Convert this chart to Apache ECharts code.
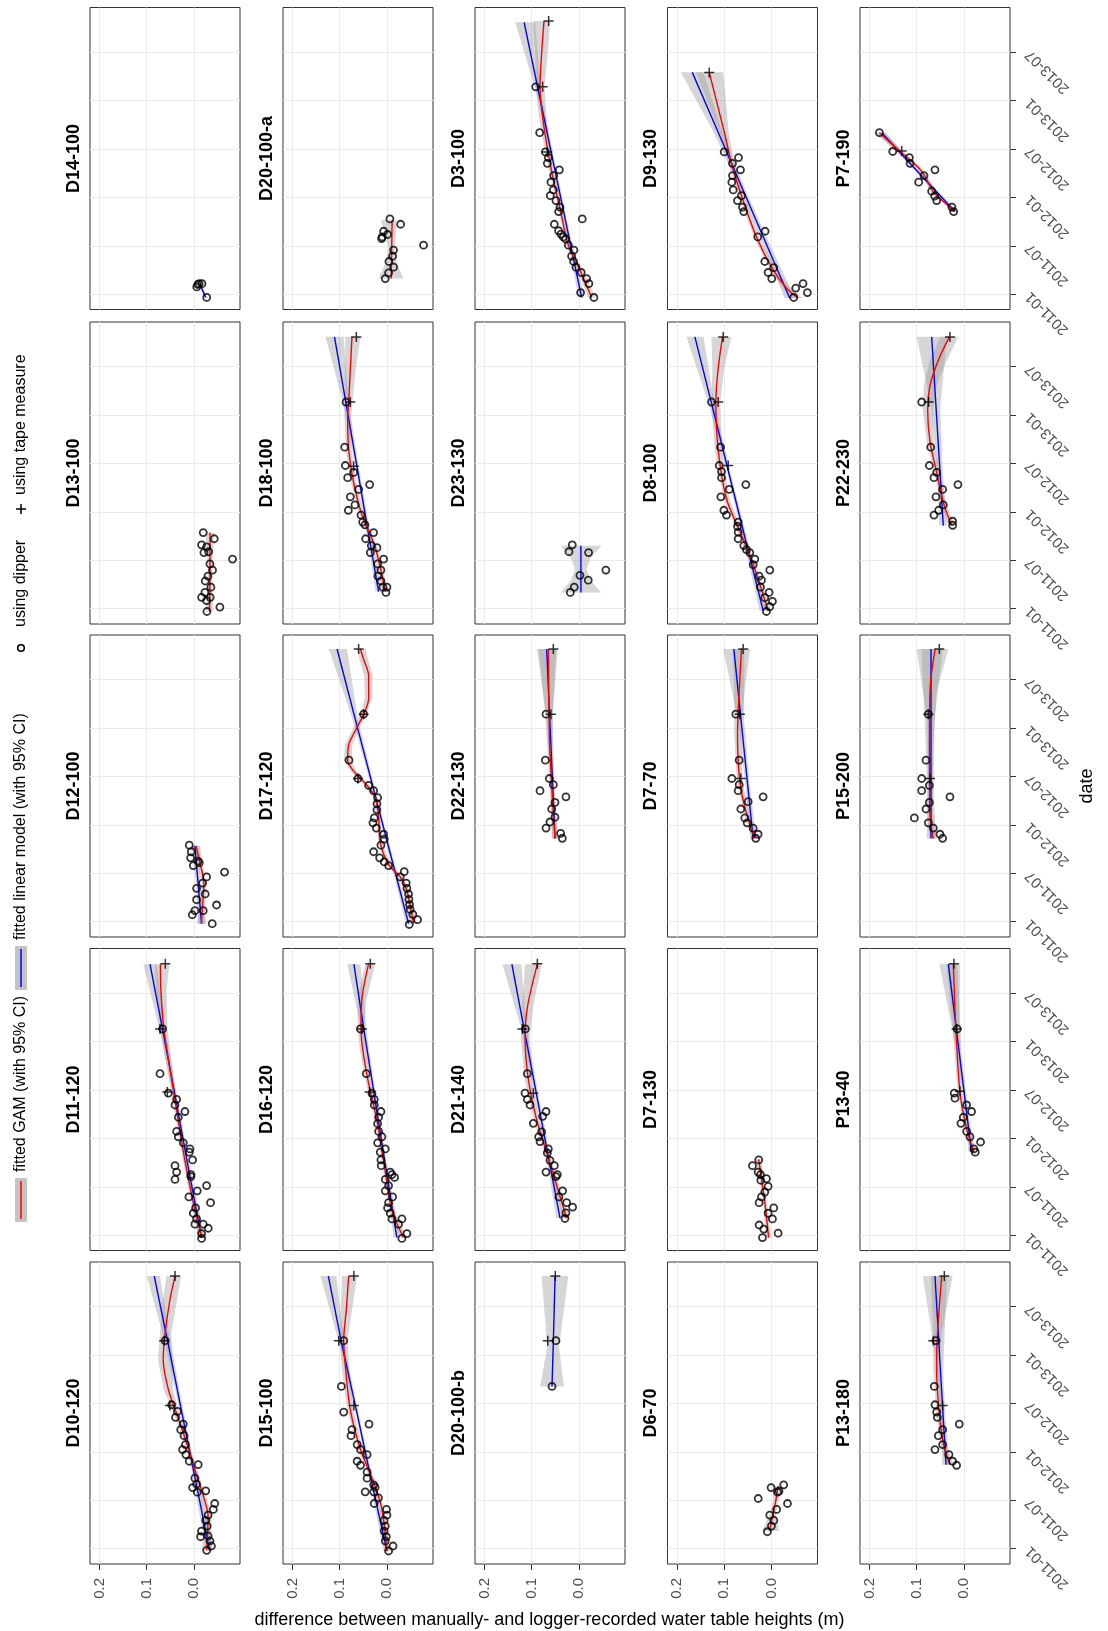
<!DOCTYPE html>
<html><head><meta charset="utf-8">
<script src="https://cdn.jsdelivr.net/npm/echarts@6/dist/echarts.min.js"></script>
<style>html,body{margin:0;padding:0;background:#fff}#chart{width:1108px;height:1631px}</style>
</head><body><div id="chart"></div>
<script>
// Dates are given in months since 2011-01-01; values are differences in metres.
const facetNames = ['D10-120','D11-120','D12-100','D13-100','D14-100',
  'D15-100','D16-120','D17-120','D18-100','D20-100-a',
  'D20-100-b','D21-140','D22-130','D23-130','D3-100',
  'D6-70','D7-130','D7-70','D8-100','D9-130',
  'P13-180','P13-40','P15-200','P22-230','P7-190'];
const valueTicks = [0, 0.1, 0.2];
const dateTicks = [0, 6, 12, 18, 24, 30];
const dateTickLabels = ['2011-01','2011-07','2012-01','2012-07','2013-01','2013-07'];

// ---- point data: [month, value] ; fits: [month, fit, lower, upper]
const dip_D10_120 = [[25.79,0.061],[17.84,0.047],[17.02,0.035],[16.28,0.039],[15.45,0.0225],[14.75,0.028],[14.01,0.021],[12.9,0.018],[12.28,0.024],[11.66,0.017],[10.84,0.010],[10.42,-0.009],[8.74,-0.002],[7.99,-0.0056],[7.58,0.0028],[7.17,-0.025],[7.01,-0.007],[5.6,-0.044],[4.86,-0.041],[4.16,-0.030],[3.5,-0.025],[2.8,-0.028],[2.18,-0.016],[1.48,-0.014],[1.57,-0.030],[0.95,-0.034],[0.33,-0.037],[-0.21,-0.027]];
const tape_D10_120 = [[33.79,0.040],[25.79,0.063],[17.76,0.051]];
const gam_D10_120 = [[-0.2,-0.027,-0.037,-0.017],[4.0,-0.030,-0.037,-0.023],[6.5,-0.020,-0.026,-0.014],[9.0,-0.006,-0.011,-0.001],[13.1,0.0155,0.011,0.020],[16.8,0.037,0.031,0.043],[19.7,0.054,0.044,0.064],[23.4,0.065,0.045,0.076],[26.7,0.061,0.048,0.072],[30.8,0.051,0.036,0.066],[33.8,0.040,0.027,0.058]];
const lm_D10_120 = [[-0.2,-0.033,-0.041,-0.025],[8.3,-0.004,-0.008,0.0],[17,0.026,0.022,0.030],[25.5,0.055,0.049,0.061],[33.8,0.084,0.072,0.100]];

const dip_D11_120 = [[25.57,0.0662],[20.02,0.0718],[17.6,0.0542],[16.84,0.0366],[16.14,0.0401],[15.33,0.019],[14.62,0.0331],[12.86,0.0366],[12.2,0.0331],[11.45,0.0225],[10.69,0.0085],[10.29,0.0099],[9.33,0.0028],[8.62,0.0401],[7.82,0.0366],[6.91,0.0401],[7.51,0.0063],[7.26,0.0063],[6.15,-0.0268],[5.5,-0.007],[4.74,0.0106],[4.03,-0.0352],[3.38,-0.0035],[2.72,0.0014],[2.02,-0.0056],[1.36,-0.0021],[1.36,-0.0197],[0.86,-0.0303],[0.2,-0.0162],[-0.4,-0.0162]];
const tape_D11_120 = [[33.64,0.0606],[25.57,0.0718],[17.75,0.0563]];
const gam_D11_120 = [[-0.3,-0.016,-0.022,-0.010],[4.1,0.0014,-0.003,0.006],[9.2,0.019,0.015,0.023],[16.7,0.040,0.035,0.045],[23.3,0.058,0.051,0.065],[25.6,0.064,0.056,0.071],[30.4,0.070,0.058,0.080],[33.6,0.071,0.052,0.083]];
const lm_D11_120 = [[-0.3,-0.016,-0.023,-0.009],[8,0.0107,0.007,0.015],[16.5,0.0375,0.034,0.041],[25,0.0646,0.059,0.071],[33.6,0.093,0.079,0.107]];

const dip_D12_100 = [[9.48,0.0099],[8.67,0.0056],[7.92,0.007],[7.51,-0.0085],[7.31,-0.0113],[6.96,0.0014],[6.15,-0.0648],[5.55,-0.0268],[4.79,-0.0183],[4.14,-0.0056],[3.43,-0.0239],[2.72,-0.0056],[2.07,-0.0479],[1.36,-0.0021],[0.86,0.0035],[1.36,-0.0197],[-0.25,-0.0387]];
const tape_D12_100 = [];
const gam_D12_100 = [[-0.25,-0.016,-0.025,-0.007],[1.8,-0.018,-0.024,-0.012],[4.8,-0.021,-0.026,-0.016],[7.3,-0.0127,-0.018,-0.007],[9.4,-0.0042,-0.013,0.006]];
const lm_D12_100 = [[-0.25,-0.0162,-0.024,-0.008],[4.6,-0.009,-0.013,-0.005],[9.4,-0.0021,-0.011,0.007]];

const dip_D13_100 = [[9.43,-0.0197],[8.67,-0.043],[7.92,-0.0162],[7.67,-0.0268],[6.96,-0.0211],[7.06,-0.031],[6.15,-0.0817],[5.55,-0.0338],[4.79,-0.0394],[4.03,-0.0296],[3.43,-0.0239],[2.67,-0.0359],[2.02,-0.0232],[1.41,-0.0162],[1.01,-0.0268],[1.41,-0.0345],[0.2,-0.0549],[-0.35,-0.0275]];
const tape_D13_100 = [];
const gam_D13_100 = [[-0.35,-0.033,-0.041,-0.025],[4.5,-0.034,-0.038,-0.030],[9.4,-0.034,-0.043,-0.025]];
const lm_D13_100 = [];

const dip_D14_100 = [[-0.4,-0.027],[0.9,-0.006],[1.3,-0.011],[1.3,-0.017],[1.2,-0.008]];
const tape_D14_100 = [];
const gam_D14_100 = [];
const lm_D14_100 = [[-0.4,-0.025,-0.028,-0.022],[1.3,-0.012,-0.015,-0.009]];

const dip_D15_100 = [[25.79,0.0915],[20.11,0.0965],[16.93,0.0915],[15.45,0.038],[14.75,0.074],[14.01,0.076],[12.9,0.063],[12.28,0.056],[11.66,0.042],[10.84,0.063],[10.34,0.056],[9.48,0.042],[8.74,0.042],[7.91,0.028],[7.62,0.025],[7.05,0.046],[7.05,0.028],[6.3,0.018],[5.6,0.027],[4.86,0.001],[4.16,0.0],[3.5,0.006],[2.8,0.0035],[2.18,0.006],[1.48,0.0014],[0.95,0.0035],[0.33,-0.013],[-0.29,-0.0035]];
const tape_D15_100 = [[33.79,0.070],[25.79,0.102],[17.76,0.070]];
const gam_D15_100 = [[-0.3,0.0,-0.006,0.006],[4.9,0.0106,0.006,0.015],[8.2,0.028,0.024,0.032],[12.3,0.056,0.051,0.061],[17.2,0.0775,0.071,0.084],[22.6,0.088,0.080,0.096],[25.9,0.0915,0.083,0.100],[29.6,0.086,0.074,0.098],[33.8,0.081,0.063,0.095]];
const lm_D15_100 = [[-0.3,0.0,-0.007,0.007],[8.2,0.032,0.028,0.036],[16.7,0.063,0.060,0.066],[25.2,0.095,0.090,0.100],[33.8,0.124,0.107,0.141]];

const dip_D16_120 = [[25.57,0.0563],[20.02,0.0437],[17.6,0.0317],[16.84,0.0268],[16.14,0.0268],[15.33,0.0127],[14.62,0.0176],[13.82,0.0197],[12.86,0.0176],[12.2,0.0106],[11.45,0.0197],[10.69,0.0035],[10.29,0.0141],[9.33,0.0127],[8.62,0.012],[7.82,-0.007],[7.51,-0.0106],[7.16,-0.0162],[6.91,0.0035],[6.15,-0.0035],[5.5,0.0035],[4.74,-0.012],[4.03,-0.0035],[3.38,-0.0014],[2.72,-0.007],[2.02,-0.0106],[2.02,-0.0317],[1.36,-0.0246],[0.2,-0.0423],[-0.4,-0.0317]];
const tape_D16_120 = [[33.64,0.0352],[25.57,0.0528],[17.75,0.0366]];
const gam_D16_120 = [[-0.3,-0.035,-0.042,-0.028],[3.1,-0.0106,-0.015,-0.006],[9.2,0.007,0.003,0.011],[14.2,0.021,0.017,0.025],[18.8,0.0387,0.034,0.044],[22.8,0.0507,0.045,0.057],[25.6,0.055,0.048,0.062],[29.3,0.053,0.043,0.062],[33.6,0.039,0.025,0.046]];
const lm_D16_120 = [[-0.3,-0.021,-0.028,-0.014],[8.2,0.002,-0.001,0.005],[16.7,0.025,0.022,0.028],[25.2,0.048,0.043,0.053],[33.6,0.070,0.056,0.084]];

const dip_D17_120 = [[25.72,0.0493],[20.02,0.0803],[17.75,0.0613],[16.89,0.0387],[16.24,0.0282],[15.38,0.0197],[14.62,0.0211],[13.87,0.0211],[12.86,0.0268],[12.25,0.0296],[11.6,0.0225],[10.84,0.007],[10.24,0.0056],[9.48,0.0127],[8.67,0.0282],[7.92,0.0155],[7.41,0.0056],[6.96,-0.0035],[5.55,-0.0282],[6.2,-0.0366],[4.79,-0.0408],[4.14,-0.0423],[3.43,-0.0458],[2.77,-0.0465],[2.12,-0.0479],[1.51,-0.0493],[0.91,-0.0549],[0.25,-0.0648],[-0.35,-0.0472]];
const tape_D17_120 = [[33.79,0.0599],[25.72,0.0493],[17.75,0.0613]];
const gam_D17_120 = [[-0.25,-0.0563,-0.064,-0.049],[3.8,-0.0423,-0.047,-0.038],[5.55,-0.0282,-0.033,-0.023],[7.06,-0.0035,-0.008,0.001],[9.8,0.0141,0.010,0.018],[12.9,0.0176,0.014,0.022],[15.4,0.0246,0.020,0.029],[16.9,0.0423,0.037,0.048],[18.66,0.0704,0.064,0.077],[20.0,0.0831,0.075,0.091],[21.9,0.081,0.073,0.089],[23.7,0.0669,0.060,0.074],[25.7,0.0493,0.043,0.056],[27.7,0.0387,0.031,0.047],[30.5,0.0387,0.030,0.048],[32.5,0.0493,0.040,0.058],[33.8,0.0563,0.045,0.064]];
const lm_D17_120 = [[-0.25,-0.0458,-0.052,-0.040],[8.3,-0.0078,-0.011,-0.004],[16.8,0.030,0.027,0.033],[25.3,0.0679,0.062,0.074],[33.8,0.1056,0.0845,0.123]];

const dip_D18_100 = [[25.62,0.0866],[20.02,0.0894],[17.75,0.088],[16.89,0.0704],[16.24,0.0831],[15.38,0.0366],[14.78,0.0599],[13.87,0.0775],[12.86,0.0676],[12.2,0.0817],[11.6,0.0549],[10.74,0.0514],[10.39,0.0465],[9.43,0.0282],[8.67,0.0451],[7.82,0.0331],[7.56,0.0211],[6.96,0.0352],[6.15,0.007],[5.55,0.0197],[4.79,0.0127],[4.03,0.019],[3.43,0.0127],[2.67,0.0085],[2.67,0.0],[2.02,0.0021]];
const tape_D18_100 = [[33.69,0.0648],[25.62,0.0775],[17.65,0.0704]];
const gam_D18_100 = [[2.1,0.0035,-0.003,0.010],[7.56,0.0246,0.020,0.029],[11.6,0.0528,0.048,0.058],[15.6,0.0704,0.065,0.076],[19.7,0.081,0.075,0.087],[23.7,0.0831,0.076,0.090],[25.6,0.081,0.073,0.089],[29.7,0.0775,0.066,0.089],[33.7,0.074,0.056,0.088]];
const lm_D18_100 = [[2.1,0.0176,0.011,0.024],[10,0.041,0.037,0.045],[18,0.0646,0.061,0.068],[26,0.0883,0.082,0.095],[33.7,0.111,0.0915,0.130]];

const dip_D20_100_a = [[9.33,-0.0063],[8.67,-0.029],[7.8,0.007],[7.1,0.0099],[7.4,-0.0014],[6.9,0.0113],[6.08,-0.0775],[5.47,-0.014],[4.71,-0.012],[4.05,-0.0042],[3.35,-0.014],[2.64,-0.0035],[1.93,0.0035]];
const tape_D20_100_a = [];
const gam_D20_100_a = [[1.93,-0.009,-0.035,0.018],[3.7,-0.0095,-0.022,0.004],[5.5,-0.010,-0.016,-0.0035],[7.4,-0.0105,-0.019,0.003],[9.2,-0.011,-0.020,0.013]];
const lm_D20_100_a = [];

const dip_D20_100_b = [[25.79,0.0486],[20.11,0.057]];
const tape_D20_100_b = [[33.79,0.050],[25.79,0.066]];
const gam_D20_100_b = [];
const lm_D20_100_b = [[20.1,0.057,0.032,0.082],[25,0.0545,0.042,0.067],[33.8,0.0505,0.0225,0.079]];

const dip_D21_140 = [[25.57,0.1134],[20.02,0.1092],[17.6,0.1141],[16.84,0.1092],[16.14,0.1035],[15.33,0.0697],[14.73,0.0768],[13.87,0.0965],[12.81,0.0789],[12.2,0.0852],[11.6,0.0824],[10.69,0.0648],[10.19,0.0669],[9.28,0.0613],[8.62,0.0521],[7.82,0.0697],[7.51,0.0458],[7.26,0.0486],[5.5,0.0345],[4.74,0.0423],[4.03,0.0261],[3.48,0.0134],[2.77,0.0275],[2.07,0.0296]];
const tape_D21_140 = [[33.64,0.088],[25.57,0.1197],[17.6,0.0965]];
const gam_D21_140 = [[2.1,0.026,0.019,0.033],[6.15,0.047,0.042,0.052],[10.2,0.068,0.063,0.073],[14.2,0.089,0.083,0.095],[19.3,0.107,0.099,0.115],[24.3,0.114,0.105,0.123],[28.3,0.109,0.097,0.120],[33.6,0.088,0.079,0.114]];
const lm_D21_140 = [[2.1,0.040,0.032,0.048],[10,0.0657,0.061,0.070],[18,0.0916,0.088,0.095],[26,0.1175,0.111,0.124],[33.6,0.142,0.122,0.162]];

const dip_D22_130 = [[25.72,0.0697],[20.02,0.0711],[17.75,0.0627],[16.99,0.0542],[16.24,0.0824],[15.48,0.0275],[14.78,0.0507],[13.97,0.0577],[12.96,0.0507],[12.36,0.0613],[11.6,0.0697],[10.94,0.0387],[10.34,0.0352]];
const tape_D22_130 = [[33.79,0.0542],[25.72,0.0592]];
const gam_D22_130 = [[10.3,0.0507,0.045,0.057],[14.9,0.0556,0.051,0.060],[20.9,0.0613,0.056,0.066],[26,0.0634,0.055,0.072],[33.8,0.0648,0.045,0.085]];
const lm_D22_130 = [[10.3,0.0507,0.044,0.057],[17,0.0557,0.052,0.060],[25,0.0617,0.056,0.068],[33.8,0.0683,0.048,0.089]];

const dip_D23_130 = [[7.92,0.0141],[7.06,0.0211],[6.96,-0.0204],[4.79,-0.057],[4.14,-0.0021],[3.53,-0.0197],[2.67,0.0099],[2.02,0.0183]];
const tape_D23_130 = [];
const gam_D23_130 = [];
const lm_D23_130 = [[2.0,-0.0042,-0.047,0.038],[3.5,-0.0042,-0.025,0.017],[4.9,-0.0042,-0.016,0.0085],[6.3,-0.0042,-0.025,0.017],[7.8,-0.0042,-0.048,0.038]];

const dip_D3_100 = [[25.7,0.0915],[20.02,0.0831],[17.64,0.0711],[16.93,0.0648],[16.22,0.0669],[15.41,0.0415],[14.7,0.0535],[13.89,0.0592],[12.92,0.0542],[12.21,0.0606],[11.61,0.0486],[10.8,0.0401],[10.24,0.043],[9.33,-0.007],[8.67,0.0521],[7.86,0.043],[7.45,0.038],[7.1,0.0331],[6.84,0.0282],[6.08,0.0225],[5.47,0.0106],[4.71,0.0155],[4.05,0.0113],[3.35,0.0063],[2.69,-0.0049],[1.93,-0.0162],[1.32,-0.0211],[0.2,-0.0035],[-0.41,-0.0317]];
const tape_D3_100 = [[33.86,0.0641],[25.7,0.0768],[17.64,0.0669]];
const gam_D3_100 = [[-0.4,-0.0268,-0.035,-0.019],[3.0,-0.002,-0.007,0.003],[6.1,0.0225,0.018,0.027],[10.6,0.040,0.036,0.044],[15.2,0.0577,0.053,0.063],[21.3,0.0754,0.068,0.083],[25.7,0.0824,0.073,0.092],[29.9,0.0789,0.066,0.092],[33.86,0.074,0.061,0.0965]];
const lm_D3_100 = [[-0.4,-0.0056,-0.012,0.001],[8,0.0244,0.021,0.028],[16.6,0.0551,0.052,0.058],[25,0.0851,0.080,0.090],[33.7,0.116,0.093,0.135]];

const dip_D6_70 = [[7.58,0.0007],[7.91,-0.026],[7.13,-0.016],[7.0,-0.013],[6.22,0.028],[5.6,-0.034],[4.86,-0.011],[4.16,0.0035],[3.5,-0.005],[2.8,0.0],[2.1,0.0085]];
const tape_D6_70 = [];
const gam_D6_70 = [[7.75,-0.014,-0.022,-0.002],[6.2,-0.010,-0.016,-0.004],[4.45,-0.004,-0.009,0.002],[2.2,0.004,-0.016,0.020]];
const lm_D6_70 = [];

const dip_D7_130 = [[9.33,0.0268],[8.62,0.0401],[7.82,0.0282],[7.51,0.0232],[7.01,0.0106],[6.81,0.0225],[6.05,0.007],[5.35,0.0141],[4.74,0.0211],[4.03,0.0261],[3.38,-0.0049],[2.72,0.007],[2.02,-0.0021],[1.26,0.0261],[0.76,0.0162],[0.25,-0.0141],[-0.3,0.019]];
const tape_D7_130 = [];
const gam_D7_130 = [[-0.3,0.006,0.0,0.012],[3.6,0.013,0.009,0.017],[6.15,0.019,0.015,0.023],[9.4,0.027,0.021,0.033]];
const lm_D7_130 = [];

const dip_D7_70 = [[25.72,0.0754],[20.02,0.0683],[17.75,0.0838],[16.99,0.0683],[16.24,0.0704],[15.48,0.0176],[14.88,0.0493],[13.97,0.0648],[12.86,0.0563],[12.25,0.0514],[11.6,0.0387],[10.84,0.0282],[10.34,0.0331]];
const tape_D7_70 = [[33.79,0.0599],[25.72,0.0669],[17.75,0.0648]];
const gam_D7_70 = [[10.3,0.035,0.029,0.041],[13.4,0.0528,0.047,0.058],[17.4,0.0669,0.061,0.073],[23.4,0.0718,0.064,0.079],[28.5,0.0683,0.057,0.079],[33.8,0.0634,0.045,0.082]];
const lm_D7_70 = [[10.3,0.0387,0.032,0.045],[17,0.0504,0.046,0.055],[25,0.0643,0.058,0.071],[33.8,0.0796,0.057,0.102]];

const dip_D8_100 = [[25.62,0.1268],[20.02,0.1077],[17.75,0.1106],[17.0,0.1056],[16.24,0.1056],[15.38,0.0542],[14.78,0.0894],[13.87,0.107],[12.2,0.1007],[11.6,0.0951],[10.74,0.0704],[10.19,0.0718],[9.48,0.0704],[8.67,0.0704],[7.82,0.0585],[7.31,0.0528],[6.96,0.0458],[6.15,0.0352],[5.45,0.0387],[4.79,0.0035],[4.03,0.0261],[3.53,0.0211],[2.67,0.0232],[2.02,0.0049],[1.36,0.0141],[0.91,-0.0021],[0.25,0.0035],[-0.35,0.0106]];
const tape_D8_100 = [[33.69,0.1021],[25.62,0.1127],[17.75,0.0915]];
const gam_D8_100 = [[-0.25,0.007,0.0,0.014],[5.5,0.0387,0.034,0.044],[9.6,0.0669,0.062,0.072],[13.6,0.0951,0.089,0.101],[19.7,0.1127,0.105,0.120],[25.6,0.1176,0.108,0.127],[29.8,0.1127,0.100,0.125],[33.7,0.1035,0.0845,0.127]];
const lm_D8_100 = [[-0.25,0.0176,0.010,0.025],[8.2,0.0535,0.049,0.058],[16.7,0.0896,0.086,0.093],[25.2,0.1257,0.120,0.132],[33.7,0.162,0.144,0.180]];

const dip_D9_130 = [[17.64,0.1],[16.93,0.0697],[16.22,0.0824],[15.41,0.0655],[14.7,0.0824],[13.89,0.0838],[12.92,0.081],[12.21,0.0634],[11.61,0.0718],[10.8,0.0613],[10.24,0.0585],[7.8,0.0134],[7.1,0.0289],[4.05,0.0141],[3.29,-0.0049],[2.69,0.007],[1.93,-0.0007],[1.32,-0.0669],[0.76,-0.0514],[0.2,-0.0761],[-0.41,-0.0472]];
const tape_D9_130 = [[27.47,0.1317]];
const gam_D9_130 = [[-0.5,-0.0563,-0.066,-0.046],[0.76,-0.0317,-0.040,-0.024],[3.0,-0.0035,-0.010,0.003],[7.1,0.0317,0.026,0.037],[12.2,0.0634,0.058,0.069],[16.2,0.0845,0.078,0.091],[19.8,0.0986,0.090,0.108],[27.5,0.1317,0.102,0.160]];
const lm_D9_130 = [[-0.5,-0.0387,-0.050,-0.028],[6.5,0.0129,0.006,0.020],[13.5,0.0645,0.059,0.070],[20.5,0.116,0.106,0.126],[27.5,0.1676,0.144,0.192]];

const dip_P13_180 = [[25.79,0.0592],[20.11,0.0627],[17.84,0.0613],[16.93,0.0577],[16.28,0.0563],[15.45,0.0099],[14.75,0.0451],[14.01,0.0542],[12.9,0.0451],[12.28,0.0613],[11.66,0.0317],[10.84,0.0239],[10.34,0.0155]];
const tape_P13_180 = [[33.79,0.0415],[25.79,0.0648],[17.76,0.0451]];
const gam_P13_180 = [[10.4,0.030,0.022,0.038],[13.1,0.0437,0.037,0.050],[17.2,0.053,0.047,0.059],[22.6,0.058,0.051,0.065],[26.7,0.056,0.047,0.065],[33.8,0.047,0.024,0.070]];
const lm_P13_180 = [[10.4,0.038,0.030,0.046],[16,0.0436,0.039,0.049],[22,0.0496,0.044,0.056],[33.8,0.0613,0.036,0.087]];

const dip_P13_40 = [[25.57,0.0141],[17.6,0.0204],[16.99,0.019],[16.14,-0.0056],[15.33,-0.0162],[14.62,0.0014],[13.87,0.0063],[12.86,-0.0056],[12.2,-0.0127],[11.55,-0.0352],[10.69,-0.0211],[10.29,-0.0239]];
const tape_P13_40 = [[33.64,0.0211],[25.57,0.0155],[17.85,0.0085]];
const gam_P13_40 = [[10.3,-0.021,-0.027,-0.015],[13.2,-0.0056,-0.010,-0.001],[17.75,0.0085,0.004,0.013],[25.6,0.017,0.010,0.024],[33.6,0.0225,0.008,0.037]];
const lm_P13_40 = [[10.3,-0.016,-0.022,-0.010],[16,-0.004,-0.008,0.0],[22,0.0086,0.004,0.013],[33.6,0.033,0.014,0.052]];

const dip_P15_200 = [[25.72,0.0754],[20.02,0.0803],[17.75,0.0894],[16.89,0.0732],[16.24,0.0894],[15.48,0.0296],[14.78,0.0732],[13.97,0.0803],[12.86,0.1049],[12.25,0.0754],[11.6,0.0648],[10.84,0.0507],[10.34,0.0451]];
const tape_P15_200 = [[33.79,0.0521],[25.72,0.0754],[17.75,0.0718]];
const gam_P15_200 = [[10.3,0.065,0.057,0.073],[13.4,0.072,0.066,0.078],[20.9,0.073,0.066,0.080],[28.5,0.072,0.058,0.086],[33.8,0.061,0.033,0.090]];
const lm_P15_200 = [[10.3,0.0697,0.060,0.079],[17,0.0697,0.064,0.075],[25,0.0697,0.062,0.078],[33.8,0.0697,0.045,0.100]];

const dip_P22_230 = [[25.62,0.0894],[20.02,0.0704],[17.75,0.0732],[16.89,0.0577],[16.24,0.0634],[15.38,0.0127],[14.78,0.0451],[13.87,0.0592],[12.86,0.0437],[12.2,0.0535],[11.6,0.0634],[10.84,0.0239],[10.34,0.0239]];
const tape_P22_230 = [[33.69,0.0296],[25.62,0.0746]];
const gam_P22_230 = [[10.3,0.026,0.019,0.033],[12.9,0.0423,0.037,0.048],[16.9,0.0577,0.052,0.063],[20.7,0.0718,0.064,0.079],[24.7,0.0768,0.066,0.087],[27.7,0.0718,0.058,0.085],[30.8,0.0542,0.036,0.072],[33.7,0.031,0.012,0.050]];
const lm_P22_230 = [[10.3,0.0437,0.036,0.052],[17,0.0507,0.045,0.057],[25,0.0591,0.050,0.069],[33.7,0.0683,0.036,0.100]];

const dip_P7_190 = [[20.02,0.1789],[17.69,0.1507],[16.93,0.1155],[16.22,0.1141],[15.41,0.0613],[14.7,0.0845],[13.89,0.0958],[12.77,0.0683],[12.16,0.062],[11.61,0.0577],[10.8,0.0254],[10.24,0.0218]];
const tape_P7_190 = [[17.74,0.1317]];
const gam_P7_190 = [[10.24,0.021,0.015,0.027],[10.6,0.026,0.021,0.031],[12.7,0.0648,0.059,0.071],[14.6,0.0824,0.077,0.088],[15.7,0.0965,0.091,0.102],[17.7,0.1352,0.129,0.142],[20.0,0.1789,0.168,0.190]];
const lm_P7_190 = [[10.24,0.019,0.013,0.025],[15,0.0947,0.091,0.099],[20,0.174,0.165,0.183]];

// lookup built from the named arrays above
const dipByFacet = {'D10-120':dip_D10_120,'D11-120':dip_D11_120,'D12-100':dip_D12_100,'D13-100':dip_D13_100,'D14-100':dip_D14_100,'D15-100':dip_D15_100,'D16-120':dip_D16_120,'D17-120':dip_D17_120,'D18-100':dip_D18_100,'D20-100-a':dip_D20_100_a,'D20-100-b':dip_D20_100_b,'D21-140':dip_D21_140,'D22-130':dip_D22_130,'D23-130':dip_D23_130,'D3-100':dip_D3_100,'D6-70':dip_D6_70,'D7-130':dip_D7_130,'D7-70':dip_D7_70,'D8-100':dip_D8_100,'D9-130':dip_D9_130,'P13-180':dip_P13_180,'P13-40':dip_P13_40,'P15-200':dip_P15_200,'P22-230':dip_P22_230,'P7-190':dip_P7_190};
const tapeByFacet = {'D10-120':tape_D10_120,'D11-120':tape_D11_120,'D12-100':tape_D12_100,'D13-100':tape_D13_100,'D14-100':tape_D14_100,'D15-100':tape_D15_100,'D16-120':tape_D16_120,'D17-120':tape_D17_120,'D18-100':tape_D18_100,'D20-100-a':tape_D20_100_a,'D20-100-b':tape_D20_100_b,'D21-140':tape_D21_140,'D22-130':tape_D22_130,'D23-130':tape_D23_130,'D3-100':tape_D3_100,'D6-70':tape_D6_70,'D7-130':tape_D7_130,'D7-70':tape_D7_70,'D8-100':tape_D8_100,'D9-130':tape_D9_130,'P13-180':tape_P13_180,'P13-40':tape_P13_40,'P15-200':tape_P15_200,'P22-230':tape_P22_230,'P7-190':tape_P7_190};
const gamByFacet = {'D10-120':gam_D10_120,'D11-120':gam_D11_120,'D12-100':gam_D12_100,'D13-100':gam_D13_100,'D14-100':gam_D14_100,'D15-100':gam_D15_100,'D16-120':gam_D16_120,'D17-120':gam_D17_120,'D18-100':gam_D18_100,'D20-100-a':gam_D20_100_a,'D20-100-b':gam_D20_100_b,'D21-140':gam_D21_140,'D22-130':gam_D22_130,'D23-130':gam_D23_130,'D3-100':gam_D3_100,'D6-70':gam_D6_70,'D7-130':gam_D7_130,'D7-70':gam_D7_70,'D8-100':gam_D8_100,'D9-130':gam_D9_130,'P13-180':gam_P13_180,'P13-40':gam_P13_40,'P15-200':gam_P15_200,'P22-230':gam_P22_230,'P7-190':gam_P7_190};
const lmByFacet = {'D10-120':lm_D10_120,'D11-120':lm_D11_120,'D12-100':lm_D12_100,'D13-100':lm_D13_100,'D14-100':lm_D14_100,'D15-100':lm_D15_100,'D16-120':lm_D16_120,'D17-120':lm_D17_120,'D18-100':lm_D18_100,'D20-100-a':lm_D20_100_a,'D20-100-b':lm_D20_100_b,'D21-140':lm_D21_140,'D22-130':lm_D22_130,'D23-130':lm_D23_130,'D3-100':lm_D3_100,'D6-70':lm_D6_70,'D7-130':lm_D7_130,'D7-70':lm_D7_70,'D8-100':lm_D8_100,'D9-130':lm_D9_130,'P13-180':lm_P13_180,'P13-40':lm_P13_40,'P15-200':lm_P15_200,'P22-230':lm_P22_230,'P7-190':lm_P7_190};

// ---- layout / style
const FONT = '"Liberation Sans", Arial, Helvetica, sans-serif';
const colX = [90, 283, 475, 667.5, 860];
const rowY = [7.5, 322, 635, 948.5, 1262];
const PW = 150, PH = 302;
const BAND = 'rgba(153,153,153,0.4)';
const PLUS = 'path://M-0.15,-1L0.15,-1L0.15,-0.15L1,-0.15L1,0.15L0.15,0.15L0.15,1L-0.15,1L-0.15,0.15L-1,0.15L-1,-0.15L-0.15,-0.15Z';

const grids = [], xAxes = [], yAxes = [], series = [], graphics = [];

function bandSeries(rows, i) {
  return {
    type: 'custom', xAxisIndex: i, yAxisIndex: i, silent: true, z: 1, data: [[0, 0]],
    renderItem: function (params, api) {
      const pts = rows.map(r => api.coord([r[2], r[0]]));
      for (let j = rows.length - 1; j >= 0; j--) pts.push(api.coord([rows[j][3], rows[j][0]]));
      return { type: 'polygon', shape: { points: pts }, style: { fill: BAND } };
    }
  };
}

facetNames.forEach((name, i) => {
  const c = Math.floor(i / 5), r = 4 - (i % 5);
  const isBottom = r === 4, isRight = c === 4;
  grids.push({ left: colX[c], top: rowY[r], width: PW, height: PH, show: true,
    borderColor: '#333333', borderWidth: 1, backgroundColor: '#ffffff' });
  xAxes.push({
    gridIndex: i, type: 'value', inverse: true, min: -0.0975, max: 0.22, position: 'bottom',
    axisLine: { show: false, onZero: false },
    axisTick: { show: isBottom, customValues: valueTicks, length: 6, lineStyle: { color: '#333333', width: 1 } },
    axisLabel: { show: isBottom, customValues: valueTicks, rotate: 90, margin: 14, fontSize: 15,
      fontFamily: FONT, color: '#4d4d4d', formatter: v => Number(v).toFixed(1) },
    splitLine: { show: true, lineStyle: { color: '#ebebeb', width: 1.1 } }
  });
  yAxes.push({
    gridIndex: i, type: 'value', min: -1.9, max: 35.54, position: 'right',
    axisLine: { show: false, onZero: false },
    axisTick: { show: isRight, customValues: dateTicks, length: 6, lineStyle: { color: '#333333', width: 1 } },
    axisLabel: { show: isRight, customValues: dateTicks, rotate: 135, margin: 18, fontSize: 15,
      fontFamily: FONT, color: '#4d4d4d',
      formatter: v => { const k = dateTicks.indexOf(Math.round(v)); return k >= 0 ? dateTickLabels[k] : ''; } },
    splitLine: { show: true, lineStyle: { color: '#ebebeb', width: 1.1 } }
  });

  const lm = lmByFacet[name], gam = gamByFacet[name];
  if (lm.length) series.push(bandSeries(lm, i));
  if (gam.length) series.push(bandSeries(gam, i));
  if (lm.length) series.push({ type: 'line', xAxisIndex: i, yAxisIndex: i, silent: true, z: 3,
    data: lm.map(p => [p[1], p[0]]), symbol: 'none', lineStyle: { color: '#0000ff', width: 1.4 } });
  if (gam.length) series.push({ type: 'line', xAxisIndex: i, yAxisIndex: i, silent: true, z: 4,
    data: gam.map(p => [p[1], p[0]]), symbol: 'none', smooth: 0.3, lineStyle: { color: '#ff0000', width: 1.4 } });
  series.push({ type: 'scatter', xAxisIndex: i, yAxisIndex: i, silent: true, z: 5,
    data: dipByFacet[name].map(p => [p[1], p[0]]), symbol: 'circle', symbolSize: 7,
    itemStyle: { color: 'rgba(0,0,0,0)', borderColor: '#000000', borderWidth: 1.8 } });
  series.push({ type: 'scatter', xAxisIndex: i, yAxisIndex: i, silent: true, z: 5,
    data: tapeByFacet[name].map(p => [p[1], p[0]]), symbol: PLUS, symbolSize: 10,
    itemStyle: { color: '#000000' } });

  // strip title
  graphics.push({ type: 'text', x: colX[c] - 16, y: rowY[r] + PH / 2, rotation: Math.PI / 2,
    style: { text: name, font: 'bold 18px ' + FONT, fill: '#000000', textAlign: 'center', textVerticalAlign: 'middle' } });
});

// axis titles
graphics.push({ type: 'text', x: 549.5, y: 1620,
  style: { text: 'difference between manually- and logger-recorded water table heights (m)', font: '18px ' + FONT,
    fill: '#000000', textAlign: 'center', textVerticalAlign: 'middle' } });
graphics.push({ type: 'text', x: 1087, y: 786, rotation: Math.PI / 2,
  style: { text: 'date', font: '18px ' + FONT, fill: '#000000', textAlign: 'center', textVerticalAlign: 'middle' } });

// legend (reads bottom to top)
const LX = 21;
function legText(t, yStart) {
  return { type: 'text', x: LX, y: yStart, rotation: Math.PI / 2,
    style: { text: t, font: '16px ' + FONT, fill: '#000000', textAlign: 'left', textVerticalAlign: 'middle' } };
}
graphics.push({ type: 'rect', shape: { x: LX - 6, y: 1178, width: 12, height: 44 }, style: { fill: '#c4c4c4' } });
graphics.push({ type: 'line', shape: { x1: LX, y1: 1181, x2: LX, y2: 1219 }, style: { stroke: '#ff0000', lineWidth: 1.5 } });
graphics.push(legText('fitted GAM (with 95% CI)', 1172));
graphics.push({ type: 'rect', shape: { x: LX - 6, y: 946, width: 12, height: 44 }, style: { fill: '#c4c4c4' } });
graphics.push({ type: 'line', shape: { x1: LX, y1: 949, x2: LX, y2: 987 }, style: { stroke: '#0000ff', lineWidth: 1.5 } });
graphics.push(legText('fitted linear model (with 95% CI)', 940));
graphics.push({ type: 'circle', shape: { cx: LX, cy: 648, r: 3.3 }, style: { fill: 'none', stroke: '#000000', lineWidth: 1.6 } });
graphics.push(legText('using dipper', 627));
graphics.push({ type: 'line', shape: { x1: LX - 5, y1: 509, x2: LX + 5, y2: 509 }, style: { stroke: '#000000', lineWidth: 1.5 } });
graphics.push({ type: 'line', shape: { x1: LX, y1: 504, x2: LX, y2: 514 }, style: { stroke: '#000000', lineWidth: 1.5 } });
graphics.push(legText('using tape measure', 495));

const chart = echarts.init(document.getElementById('chart'), null, { renderer: 'canvas' });
chart.setOption({
  animation: false,
  backgroundColor: '#ffffff',
  textStyle: { fontFamily: FONT },
  grid: grids, xAxis: xAxes, yAxis: yAxes, series: series, graphic: graphics
});
</script>
</body></html>
